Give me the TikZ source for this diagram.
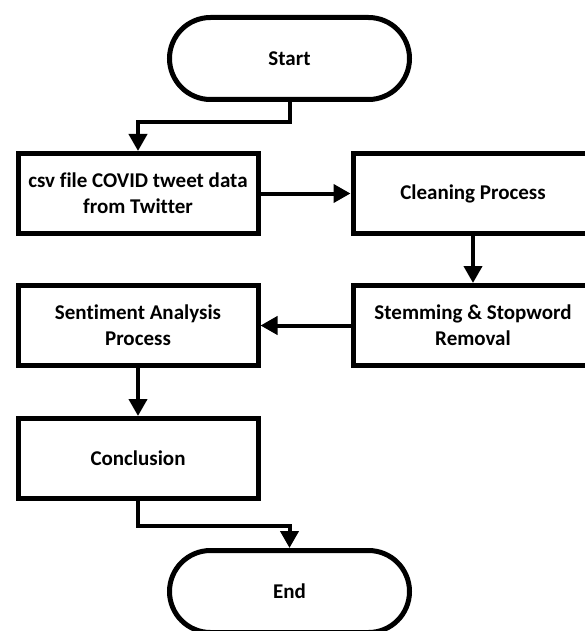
\documentclass[tikz,border=0pt]{standalone}
\usepackage{fontspec}
\setmainfont{Carlito}[Ligatures=NoCommon]
\usetikzlibrary{arrows.meta}

\begin{document}
\begin{tikzpicture}[x=1pt,y=-1pt,
    txt/.style={font=\bfseries\fontsize{21}{26}\selectfont, align=center},
    terminal/.style={txt, draw, line width=5pt, minimum width=240pt, minimum height=82pt, rounded corners=41pt},
    procbox/.style={txt, draw, line width=5pt, minimum width=240pt, minimum height=80pt},
    flow/.style={line width=4pt, -{Triangle[length=17pt,width=18pt]}}]

    \useasboundingbox (0,0) rectangle (584,631);

    % Terminals 
    % ---------
    \node[terminal] (start) at (289.5, 58.5) {Start};
    \node[terminal] (stop)  at (289.5,591.5) {End};

    % Left Column 
    % -----------
    \node[procbox] (csv)   at (138,193.5) {csv file COVID tweet data\\from Twitter};
    \node[procbox] (senti) at (138,325.5) {Sentiment Analysis\\Process};
    \node[procbox] (concl) at (138,458.5) {Conclusion};

    % Right Column 
    % ------------
    \node[procbox] (clean) at (473,193.5) {Cleaning Process};
    \node[procbox] (stem)  at (473,325.5) {Stemming \& Stopword\\Removal};

    % Draw Paths 
    % ----------
    \draw[flow] (start.south) -- ++(0,20.5) -| (csv.north);
    \draw[flow] (csv) -- (clean);
    \draw[flow] (clean) -- (stem);
    \draw[flow] (stem) -- (senti);
    \draw[flow] (senti) -- (concl);
    \draw[flow] (concl.south) -- ++(0,24.5) -| (stop.north);

\end{tikzpicture}
\end{document}
